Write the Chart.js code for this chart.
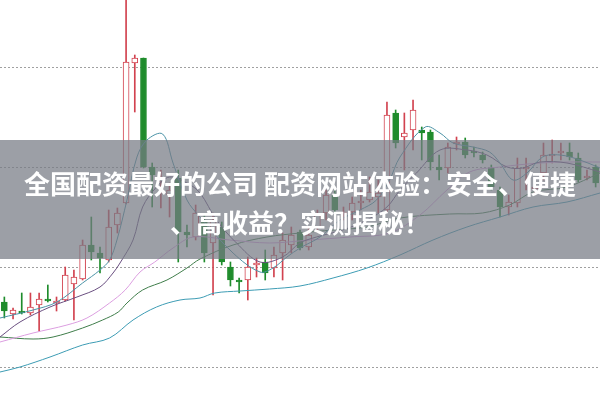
<!DOCTYPE html>
<html><head><meta charset="utf-8">
<script src="https://cdn.jsdelivr.net/npm/chart.js@4/dist/chart.umd.min.js"></script>
<style>
html,body{margin:0;padding:0;background:#fff;overflow:hidden;}
#wrap{position:relative;width:600px;height:401px;}
#banner{position:absolute;left:0;top:140px;width:600px;height:119px;background:rgba(118,122,132,0.72);
color:#fff;font-family:"Noto Sans CJK SC","Noto Sans",sans-serif;font-weight:bold;font-size:26px;line-height:39px;
text-align:center;box-sizing:border-box;padding-top:23px;}
</style></head>
<body>
<div id="wrap"><canvas id="c" width="600" height="401"></canvas>
<div id="banner">全国配资最好的公司 配资网站体验：安全、便捷<br>、高收益？实测揭秘！</div></div>
<script>
// candle data (price units)
const days = Array.from({length:69},(_, i)=>'D'+(i+1));
const open  = [16.5,15.3,15.6,15.4,16.2,16.8,16.4,16.7,18.3,18.8,22.2,21.4,20.7,24.2,26.4,40.4,40.9,30.0,28.5,27.2,28.9,23.5,23.0,24.7,22.4,24.0,20.0,18.7,18.7,20.2,20.5,19.9,21.4,22.2,23.5,22.0,24.0,25.4,27.2,25.3,25.5,26.4,26.7,27.0,25.7,35.4,33.0,33.7,33.7,33.5,30.0,29.9,32.3,32.5,31.6,31.2,29.9,27.7,26.0,26.4,29.8,27.8,29.4,31.1,31.4,31.5,30.9,28.9,30.0];
const close = [15.6,15.7,15.4,16.0,16.8,16.6,16.6,19.2,19.0,22.2,21.5,20.9,24.0,25.4,40.5,40.9,30.0,29.2,28.9,27.7,23.5,23.2,25.4,21.4,24.7,20.5,18.7,18.5,20.0,20.4,19.4,21.2,22.7,23.2,21.9,23.2,25.2,27.2,25.7,25.5,26.4,26.6,27.5,27.4,35.2,32.4,33.4,35.7,33.4,30.5,29.7,32.0,32.5,31.2,31.4,30.7,28.0,26.0,26.5,29.9,30.0,28.0,31.2,31.3,31.6,31.0,28.7,29.1,28.4];
const high  = [17.0,15.9,17.4,17.4,17.4,18.2,17.0,20.0,19.7,22.7,25.0,22.0,25.7,25.9,47.2,41.2,40.9,30.4,29.7,28.4,29.7,24.2,26.2,25.2,25.4,24.5,20.5,18.9,21.0,20.9,21.7,22.0,23.4,24.0,23.7,24.0,25.7,27.7,27.7,26.0,27.0,27.7,29.0,28.7,36.5,35.7,35.4,36.7,34.0,33.7,31.2,32.4,33.0,32.9,32.0,31.5,30.2,28.0,27.2,30.9,30.9,28.7,32.4,32.7,32.4,32.4,31.4,29.7,30.2];
const low   = [14.9,14.8,15.3,15.2,13.6,16.5,15.6,16.6,14.7,18.7,20.7,19.4,20.5,23.4,26.3,35.5,29.9,26.0,25.9,25.0,20.5,22.0,22.7,20.5,17.2,20.2,18.1,17.4,16.7,19.0,18.7,19.0,18.7,21.4,21.7,21.7,23.5,24.7,25.4,24.7,24.7,25.7,26.5,25.4,25.5,31.9,29.7,31.7,30.7,29.7,28.7,29.4,31.7,30.9,31.0,30.4,27.7,25.0,25.2,26.0,27.7,27.4,28.7,30.4,30.7,30.7,28.5,28.7,28.0];
// moving-average lines (x in candle-index units)
const ma5X  = [-0.5,3.3,6.05,9.0,11.0,12.1,12.95,14.1,15.25,16.4,18.2,19.4,21.0,22.5,26.3,29.4,30.9,32.5,34.0,36.3,38.6,40.9,42.8,44.3,45.5,48.4,50.1,51.6,53.9,55.8,57.0,58.5,60.1,61.9,63.9,66.2,68.5];
const ma5Y  = [14.9,15.7,16.5,18.4,19.7,20.7,22.7,26.7,31.0,32.7,33.3,30.4,26.7,25.0,21.4,19.5,19.9,21.0,21.9,23.0,24.7,25.7,26.7,28.7,31.0,34.0,33.4,32.4,32.0,31.5,30.4,28.7,29.4,31.0,31.2,30.7,29.9];
const ma10X = [-0.5,1.8,5.25,8.35,11.0,12.5,13.3,14.8,15.9,17.5,19.0,21.0,22.5,24.4,26.7,29.4,32.0,34.0,35.9,38.9,41.7,44.0,45.5,47.4,50.1,53.2,55.5,57.8,59.6,61.6,64.7,68.5];
const ma10Y = [13.0,14.5,16.0,17.0,18.0,19.4,20.4,22.7,26.0,28.0,29.0,28.4,27.4,24.7,22.4,20.5,21.0,22.4,23.0,23.7,24.7,26.0,27.7,29.4,31.7,31.7,31.2,30.0,29.9,30.5,30.4,29.5];
const ma20X = [-0.5,3.3,7.2,9.5,12.1,13.9,15.6,17.3,19.4,21.7,25.9,30.5,35.1,39.7,44.3,47.8,50.9,53.5,57.0,61.6,65.0,68.5];
const ma20Y = [12.5,13.4,14.2,14.9,16.4,17.7,19.5,20.5,21.9,23.0,22.7,22.4,22.7,23.0,23.4,25.2,27.7,29.5,30.0,30.4,30.5,30.5];
const ma30X = [-0.5,3.3,5.6,9.0,11.3,13.1,14.1,15.9,18.7,21.0,22.5,26.3,30.2,34.0,37.8,41.7,45.5,51.2,55.0,58.1,60.8,64.7,68.5];
const ma30Y = [13.0,12.8,13.0,13.9,14.7,15.5,16.4,17.7,18.7,19.9,20.8,22.2,23.0,23.4,23.7,24.0,24.9,25.3,25.4,26.2,27.5,28.0,29.4];
const ma60X = [-0.5,1.8,5.25,9.0,12.1,14.8,17.5,20.2,22.5,24.2,27.1,30.5,34.0,37.8,41.7,45.5,49.3,53.2,57.0,60.8,64.7,68.5];
const ma60Y = [9.5,10.0,11.0,12.2,12.9,14.7,16.0,16.7,16.9,17.4,17.6,17.8,18.1,18.9,19.9,21.2,22.7,24.0,25.0,26.0,26.5,27.4];
const gridTicks = [10,20,30,40];

const RED='#d2424f', GREEN='#1f8c2c';
const up = open.map((o,i)=>close[i]>=open[i]);
const pts = (xs,ys)=>xs.map((x,i)=>({x:x,y:ys[i]}));
const line = (label,xs,ys,color)=>({type:'line',label,data:pts(xs,ys),xAxisID:'xl',borderColor:color,borderWidth:1,pointRadius:0,tension:0.35,fill:false,order:0});

new Chart(document.getElementById('c'),{
  data:{labels:days,datasets:[
    {type:'bar',label:'body',data:open.map((o,i)=>[o,close[i]]),barThickness:6,grouped:false,
     backgroundColor:up.map(u=>u?'#ffffff':GREEN),borderColor:up.map(u=>u?RED:GREEN),borderWidth:1,borderSkipped:false,order:1},
    {type:'bar',label:'wick',data:low.map((l,i)=>[l,high[i]]),barThickness:1,grouped:false,
     backgroundColor:up.map(u=>u?RED:GREEN),borderWidth:0,order:2},
    line('MA5',ma5X,ma5Y,'#4a92a6'),
    line('MA10',ma10X,ma10Y,'#6a4f80'),
    line('MA20',ma20X,ma20Y,'#dc9ee0'),
    line('MA30',ma30X,ma30Y,'#3f7d4a'),
    line('MA60',ma60X,ma60Y,'#3d9cb4')
  ]},
  options:{responsive:false,animation:false,devicePixelRatio:1,
    layout:{padding:0},
    plugins:{legend:{display:false},tooltip:{enabled:false}},
    scales:{
      x:{type:'category',offset:true,display:false},
      xl:{type:'linear',min:-0.5,max:68.5,display:false},
      y:{type:'linear',min:6.6,max:46.7,display:true,
         afterBuildTicks:(s)=>{s.ticks=gridTicks.map(v=>({value:v}));},
         ticks:{display:false},
         grid:{color:'#a0a0a0',lineWidth:1,drawTicks:false,tickLength:0},
         border:{display:false,dash:[2,2]}}
    }
  }
});
</script>
</body></html>
